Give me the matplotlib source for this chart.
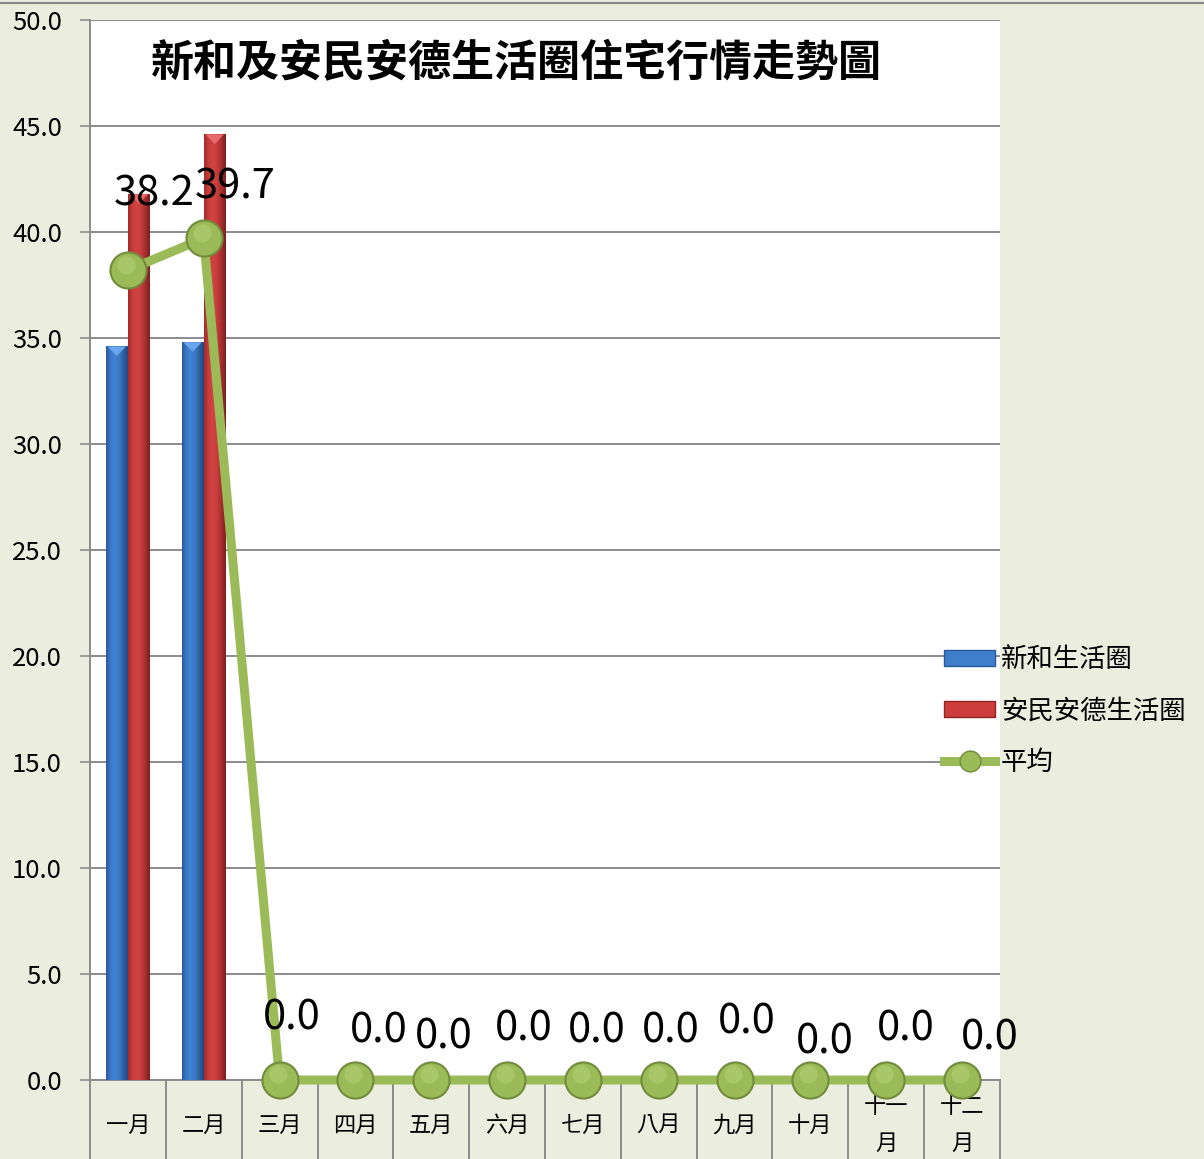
import numpy as np
import matplotlib
matplotlib.use("Agg")
import matplotlib.pyplot as plt
from matplotlib.colors import LinearSegmentedColormap
from matplotlib.patches import Patch, Polygon
from matplotlib.lines import Line2D
from matplotlib import transforms

plt.rcParams['font.family'] = ['Noto Sans CJK TC', 'DejaVu Sans']

# ---- data ----
title = "新和及安民安德生活圈住宅行情走勢圖"
categories = ["一月", "二月", "三月", "四月", "五月", "六月", "七月", "八月", "九月", "十月", "十一月", "十二月"]
series_names = ["新和生活圈", "安民安德生活圈", "平均"]
xinhe = [34.6, 34.8]
anmin = [41.8, 44.6]
average = [38.2, 39.7, 0.0, 0.0, 0.0, 0.0, 0.0, 0.0, 0.0, 0.0, 0.0, 0.0]
yticks = [0, 5, 10, 15, 20, 25, 30, 35, 40, 45, 50]

# data-label offsets (points, up = positive) as placed in the original chart
label_offsets = [(19, 55), (23, 37), (9, 45), (17, 35), (9, 31), (12, 37),
                 (10, 35), (9, 35), (9, 42), (10, 27), (14, 37), (20, 30)]

BG = '#EBEEDF'
GRID = '#8C8C8C'
GREEN = '#9BBB59'
GREEN_EDGE = '#718C3C'

W, H = 1204, 1159
fig = plt.figure(figsize=(W / 100, H / 100), dpi=100, facecolor=BG)
ax = fig.add_axes([90 / W, 79 / H, 910 / W, 1060 / H])
ax.set_facecolor('white')

x = np.arange(len(categories))
bw = 0.29
b1 = ax.bar(x[:len(xinhe)] - 0.147, xinhe, width=bw, zorder=3)
b2 = ax.bar(x[:len(anmin)] + 0.145, anmin, width=bw, zorder=3)


def gradient_fill(bars, colors, cap):
    cmap = LinearSegmentedColormap.from_list('g', colors)
    grad = np.linspace(0, 1, 128).reshape(1, -1)
    for p in bars:
        x0, y0, w, h = p.get_x(), p.get_y(), p.get_width(), p.get_height()
        im = ax.imshow(grad, extent=[x0, x0 + w, y0, y0 + h], aspect='auto',
                       cmap=cmap, zorder=3, interpolation='bicubic')
        im.set_clip_path(p)
        p.set_facecolor('none')
        p.set_edgecolor('none')
        top = y0 + h
        ax.add_patch(Polygon([(x0 + w * 0.08, top), (x0 + w * 0.92, top),
                              (x0 + w * 0.5, top - 0.45)], closed=True,
                             facecolor=cap, edgecolor='none', zorder=3.5))


gradient_fill(b1, ['#2A5896', '#3A78C8', '#4283D3', '#3B79C7', '#2E5F9F', '#22487E'], '#6AA6EE')
gradient_fill(b2, ['#9E2B2B', '#C93C3C', '#D24444', '#C73C3C', '#A42E2E', '#7E2020'], '#E86B6B')

# average line
ax.plot(x, average, color=GREEN, lw=6.5, zorder=4, solid_joinstyle='miter', clip_on=False)
ax.plot(x, average, ls='none', marker='o', ms=26, mfc=GREEN, mec=GREEN_EDGE, mew=1.5,
        zorder=5, clip_on=False)
hl = transforms.offset_copy(ax.transData, fig=fig, x=-1.5, y=4, units='points')
ax.plot(x, average, ls='none', marker='o', ms=13, mfc='#BCD67E', mec='none', alpha=0.45,
        zorder=6, clip_on=False, transform=hl)

for i, v in enumerate(average):
    dx, dy = label_offsets[i]
    ax.annotate(f"{v:.1f}", xy=(i, v), xytext=(dx, dy), textcoords='offset points',
                ha='center', va='center', fontsize=30, color='black', zorder=7,
                annotation_clip=False)

ax.set_xlim(-0.5, len(categories) - 0.5)
ax.set_ylim(0, 50)
ax.set_yticks(yticks)
ax.set_yticklabels([f"{t:.1f}" for t in yticks], fontsize=18.5)
ax.yaxis.grid(True, color=GRID, lw=1.4, zorder=0)
ax.set_axisbelow(True)
ax.tick_params(axis='y', direction='out', length=7.2, width=1.2, color=GRID, pad=13)

# category axis: boundaries as long ticks, labels placed under each category
ax.set_xticks(np.arange(len(categories) + 1) - 0.5)
ax.set_xticklabels([])
ax.tick_params(axis='x', direction='out', length=60, width=1.4, color=GRID)
for i, c in enumerate(categories):
    lab = c if len(c) <= 2 else c[:2] + "\n" + c[2:]
    ax.annotate(lab, xy=(i, 0), xycoords=('data', 'axes fraction'), xytext=(0, -32.5),
                textcoords='offset points', ha='center', va='center', fontsize=16,
                linespacing=1.75, annotation_clip=False)

for s in ['top', 'right']:
    ax.spines[s].set_visible(False)
ax.spines['left'].set_color(GRID)
ax.spines['left'].set_linewidth(1.4)
ax.spines['bottom'].set_color(GRID)
ax.spines['bottom'].set_linewidth(1.4)

fig.text(516 / W, 1 - 62 / H, title, ha='center', va='center', fontsize=31, fontweight='bold')

handles = [Patch(facecolor='#3E7ECB', edgecolor='#2A5A99'),
           Patch(facecolor='#CC3C3C', edgecolor='#8E2424'),
           Line2D([], [], color=GREEN, lw=6.5, marker='o', ms=15, mfc=GREEN, mec=GREEN_EDGE)]
fig.legend(handles, series_names, loc='center left', bbox_to_anchor=(944 / W, 1 - 711 / H),
           frameon=False, fontsize=19, handlelength=1.95, handleheight=0.55,
           handletextpad=0.2, labelspacing=0.92, borderpad=0, borderaxespad=0)

fig.add_artist(Line2D([0, 1], [1 - 3 / H, 1 - 3 / H], color='#8A8A8A', lw=1.6,
                      transform=fig.transFigure))

fig.savefig('out.png', dpi=100, facecolor=BG)
